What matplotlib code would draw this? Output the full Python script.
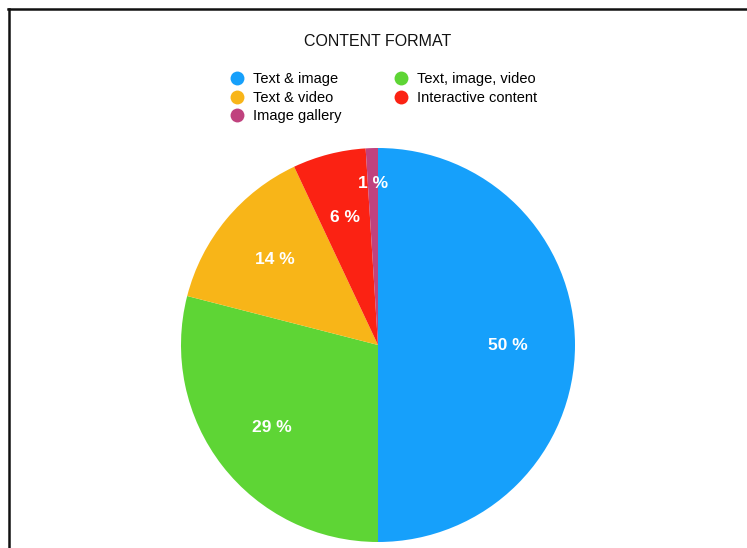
import numpy as np
import matplotlib
matplotlib.use("Agg")
import matplotlib.pyplot as plt
from matplotlib.lines import Line2D

plt.rcParams["font.family"] = ["Liberation Sans", "DejaVu Sans"]

# Share of articles by content format (percent)
FORMATS = ["Text & image", "Text, image, video", "Text & video",
           "Interactive content", "Image gallery"]
SHARES = [50, 29, 14, 6, 1]
COLORS = ["#16A0FB", "#5ED535", "#F8B518", "#FB2213", "#C0427E"]
# radial position of each percentage label, as a fraction of the radius
LABEL_DIST = [0.66, 0.68, 0.68, 0.67, 0.82]
# legend reads down the first column, then the second
LEGEND_ORDER = [0, 2, 4, 1, 3]

W, H = 747, 548
fig = plt.figure(figsize=(W / 100, H / 100), dpi=100)

# pie centred at (378, 345) px from top-left, radius 197 px
cx, cy, r = 378, 345, 197
ax = fig.add_axes([(cx - r) / W, (H - cy - r) / H, 2 * r / W, 2 * r / H])
wedges, _ = ax.pie(SHARES, colors=COLORS, startangle=90, counterclock=False,
                   radius=1.0, wedgeprops=dict(linewidth=0))
ax.set_xlim(-1, 1)
ax.set_ylim(-1, 1)
ax.set_aspect("equal")
ax.axis("off")

for w, val, d in zip(wedges, SHARES, LABEL_DIST):
    mid = np.deg2rad((w.theta1 + w.theta2) / 2)
    ax.text(d * np.cos(mid), d * np.sin(mid), f"{val} %", color="white",
            fontsize=12.5, fontweight="bold", ha="center", va="center")

fig.text(cx / W, 1 - 41 / H, "CONTENT FORMAT", ha="center", va="center",
         fontsize=11.5, color="#111111")

handles = [Line2D([], [], linestyle="none", marker="o", markersize=10,
                  markerfacecolor=COLORS[i], markeredgewidth=0)
           for i in LEGEND_ORDER]
labels = [FORMATS[i] for i in LEGEND_ORDER]
fig.legend(handles, labels, ncol=2, frameon=False, fontsize=10.5,
           loc="upper left", bbox_to_anchor=(222 / W, 1 - 65 / H),
           handlelength=1.0, handletextpad=0.6, columnspacing=3.6,
           labelspacing=0.3, borderpad=0)

# frame lines along the top and left edge
fig.add_artist(Line2D([8 / W, 1], [1 - 9 / H, 1 - 9 / H], color="#111111", lw=1.8))
fig.add_artist(Line2D([9 / W, 9 / W], [0, 1 - 9 / H], color="#111111", lw=1.8))

fig.savefig("out.png", dpi=100, facecolor="white")
